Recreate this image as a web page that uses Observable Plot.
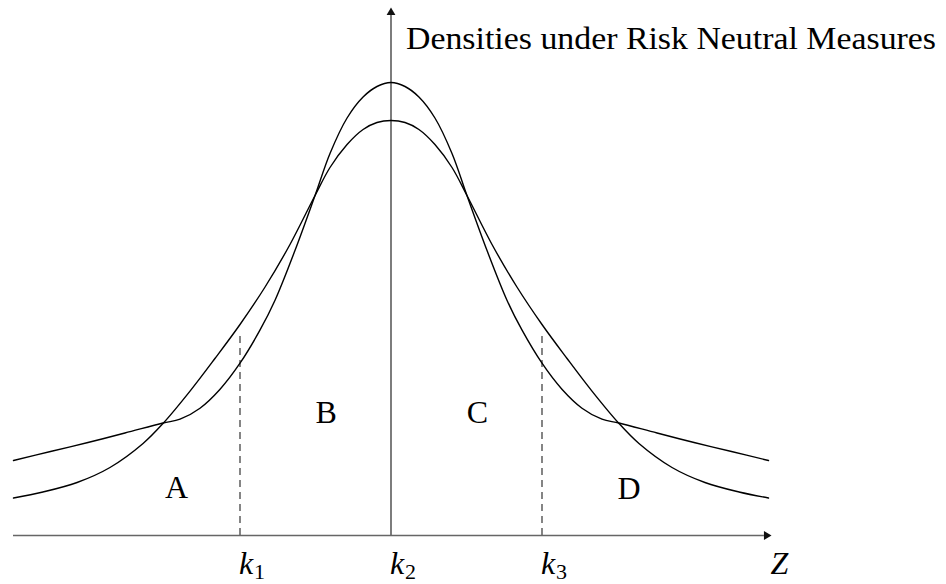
<!DOCTYPE html>
<html>
<head>
<meta charset="utf-8">
<script src="https://cdn.jsdelivr.net/npm/d3@7"></script>
<script src="https://cdn.jsdelivr.net/npm/@observablehq/plot@0.6"></script>
<style>
  html, body { margin: 0; padding: 0; background: #fff; }
  #chart svg { display: block; font-family: "Liberation Serif", "DejaVu Serif", serif; }
</style>
</head>
<body>
<div id="chart"></div>
<script>
// Peaked density with heavy tails (taller peak)
const peakedX = [-2.5, -2.255, -2.007, -1.762, -1.510, -1.397, -1.265, -1.132, -1.0, -0.868, -0.768, -0.636, -0.503, -0.404, -0.291, -0.185, -0.093, 0,
                 0.093, 0.185, 0.291, 0.404, 0.503, 0.636, 0.768, 0.868, 1.0, 1.132, 1.265, 1.397, 1.510, 1.762, 2.007, 2.255, 2.5];
const peakedY = [0.75, 0.84, 0.93, 1.025, 1.125, 1.163, 1.273, 1.463, 1.723, 2.053, 2.353, 2.85, 3.40, 3.82, 4.175, 4.385, 4.49, 4.53,
                 4.49, 4.385, 4.175, 3.82, 3.40, 2.85, 2.353, 2.053, 1.723, 1.463, 1.273, 1.163, 1.125, 1.025, 0.93, 0.84, 0.75];
// Normal-like density (lower peak, thinner tails)
const normalX = [-2.5, -2.305, -2.079, -1.861, -1.642, -1.510, -1.331, -1.166, -1.0, -0.834, -0.669, -0.503, -0.404, -0.291, -0.185, -0.093, 0,
                 0.093, 0.185, 0.291, 0.404, 0.503, 0.669, 0.834, 1.0, 1.166, 1.331, 1.510, 1.642, 1.861, 2.079, 2.305, 2.5];
const normalY = [0.375, 0.435, 0.53, 0.68, 0.92, 1.12, 1.444, 1.77, 2.11, 2.485, 2.91, 3.40, 3.68, 3.91, 4.06, 4.13, 4.15,
                 4.13, 4.06, 3.91, 3.68, 3.40, 2.91, 2.485, 2.11, 1.77, 1.444, 1.12, 0.92, 0.68, 0.53, 0.435, 0.375];

const strikeX = [-1, 0, 1];
const strikeSub = ["1", "2", "3"];
const dashedX = [-1, 1];
const dashedTop = 2.03;

const regionLabels = ["A", "B", "C", "D"];
const regionX = [-1.42, -0.43, 0.573, 1.576];
const regionY = [0.475, 1.225, 1.225, 0.47];

const yAxisTitle = "Densities under Risk Neutral Measures";
const xAxisTitle = "Z";
const xAxisEnd = 2.513;
const yAxisEnd = 5.27;

const peaked = peakedX.map((x, i) => ({x, y: peakedY[i]}));
const normal = normalX.map((x, i) => ({x, y: normalY[i]}));
const strikes = strikeX.map((x, i) => ({x, sub: strikeSub[i]}));
const regions = regionLabels.map((t, i) => ({t, x: regionX[i], y: regionY[i]}));

const FONT = "Liberation Serif";

const chart = Plot.plot({
  width: 946,
  height: 584,
  marginLeft: 13,
  marginRight: 178,
  marginTop: 8,
  marginBottom: 49,
  x: {domain: [-2.5, 2.5], axis: null},
  y: {domain: [0, 5.27], axis: null},
  style: {fontFamily: FONT, background: "#fff", color: "#000"},
  marks: [
    Plot.ruleX(dashedX, {y1: 0, y2: dashedTop, stroke: "#444", strokeWidth: 1.3, strokeDasharray: "7,5"}),
    Plot.ruleY([0], {x1: -2.5, x2: xAxisEnd - 0.04, stroke: "#666", strokeWidth: 1.5}),
    Plot.ruleX([0], {y1: 0, y2: yAxisEnd - 0.05, stroke: "#666", strokeWidth: 1.7}),
    Plot.dot([{x: xAxisEnd, y: 0}], {x: "x", y: "y", symbol: "triangle2", r: 4.2, rotate: 90, fill: "#111", dx: -4}),
    Plot.dot([{x: 0, y: yAxisEnd}], {x: "x", y: "y", symbol: "triangle2", r: 4.2, rotate: 0, fill: "#111", dy: 4}),
    Plot.line(normal, {x: "x", y: "y", curve: "catmull-rom", stroke: "#000", strokeWidth: 1.4}),
    Plot.line(peaked, {x: "x", y: "y", curve: "catmull-rom", stroke: "#000", strokeWidth: 1.4}),
    Plot.text(regions, {x: "x", y: "y", text: "t", fontSize: 32, fontFamily: FONT, fill: "#000"}),
    Plot.text(strikes, {x: "x", y: () => 0, text: () => "k", fontSize: 32, fontFamily: FONT, fontStyle: "italic", textAnchor: "start", lineAnchor: "bottom", dy: 38, dx: -1, fill: "#000"}),
    Plot.text(strikes, {x: "x", y: () => 0, text: "sub", fontSize: 22, fontFamily: FONT, textAnchor: "start", lineAnchor: "bottom", dy: 43, dx: 14, fill: "#000"}),
    Plot.text([xAxisTitle], {x: () => 2.5, y: () => 0, text: d => d, fontSize: 32, fontFamily: FONT, fontStyle: "italic", textAnchor: "start", lineAnchor: "bottom", dy: 38, dx: 2, fill: "#000"}),
    Plot.text([yAxisTitle], {x: () => 0, y: () => yAxisEnd, text: d => d, fontSize: 32, fontFamily: FONT, textAnchor: "start", lineAnchor: "bottom", dy: 40, dx: 15, fill: "#000", className: "ytitle"})
  ]
});
document.getElementById("chart").appendChild(chart);
d3.select(chart).selectAll(".ytitle text")
  .attr("textLength", 530)
  .attr("lengthAdjust", "spacingAndGlyphs");
</script>
</body>
</html>
